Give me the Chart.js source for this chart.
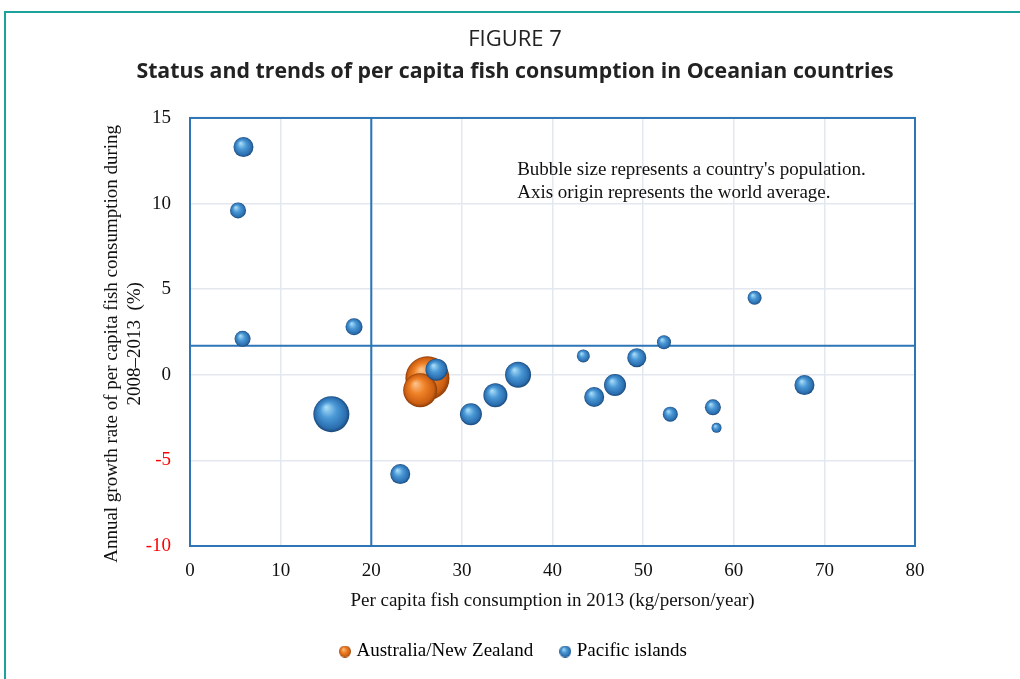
<!DOCTYPE html>
<html>
<head>
<meta charset="utf-8">
<script src="https://cdn.jsdelivr.net/npm/chart.js@4.4.1/dist/chart.umd.min.js"></script>
<style>
  html, body { margin: 0; padding: 0; background: #fff; }
  #wrap { width: 1020px; height: 679px; position: relative; }
</style>
</head>
<body>
<div id="wrap"><canvas id="fishChart"></canvas></div>
<script>
// Australia / New Zealand
const anzX = [26.2, 25.4];
const anzY = [-0.2, -0.9];
const anzR = [22, 17];

// Pacific islands
const pacX = [5.9, 5.3, 5.8, 18.1, 15.6, 23.2, 27.2, 31.0, 33.7, 36.2, 43.4, 44.6, 46.9, 49.3, 52.3, 53.0, 57.7, 58.1, 62.3, 67.8];
const pacY = [13.3, 9.6, 2.1, 2.8, -2.3, -5.8, 0.3, -2.3, -1.2, 0.0, 1.1, -1.3, -0.6, 1.0, 1.9, -2.3, -1.9, -3.1, 4.5, -0.6];
const pacR = [10, 8, 8, 8.5, 18, 10, 11, 11, 12, 13, 6.5, 10, 11, 9.5, 7, 7.5, 8, 5, 7, 10];

// world average (axis origin)
const worldX = 20;
const worldY = 1.7;

const xTicks = [0, 10, 20, 30, 40, 50, 60, 70, 80];
const yTicks = [-10, -5, 0, 5, 10, 15];

const blueStops = ['#b0e2fa', '#4a98d6', '#2b6fb0', '#1a4879'];
const orangeStops = ['#fcc791', '#ef8127', '#cc5f12', '#8c3c07'];

function points(xs, ys, rs) {
  return xs.map((x, i) => ({ x: x, y: ys[i], r: rs[i] }));
}

function sphereFill(stops) {
  return function (c) {
    if (c.type !== 'data') return stops[1];
    const chart = c.chart;
    const sx = chart.scales.x, sy = chart.scales.y;
    if (!sx || !sy) return stops[1];
    const p = c.raw;
    const cx = sx.getPixelForValue(p.x), cy = sy.getPixelForValue(p.y), r = p.r;
    if (!isFinite(cx) || !isFinite(cy) || !isFinite(r) || r <= 0) return stops[1];
    const g = chart.ctx.createRadialGradient(cx - r * 0.3, cy - r * 0.4, 0, cx, cy, r);
    g.addColorStop(0, stops[0]);
    g.addColorStop(0.45, stops[1]);
    g.addColorStop(0.85, stops[2]);
    g.addColorStop(1, stops[3]);
    return g;
  };
}

function sphereIcon(stops, r) {
  const cv = document.createElement('canvas');
  cv.width = r * 2; cv.height = r * 2;
  const c = cv.getContext('2d');
  const g = c.createRadialGradient(r * 0.7, r * 0.6, 0, r, r, r);
  g.addColorStop(0, stops[0]);
  g.addColorStop(0.45, stops[1]);
  g.addColorStop(0.85, stops[2]);
  g.addColorStop(1, stops[3]);
  c.fillStyle = g;
  c.beginPath(); c.arc(r, r, r, 0, Math.PI * 2); c.fill();
  return cv;
}

const orangeIcon = sphereIcon(orangeStops, 6);
const blueIcon = sphereIcon(blueStops, 6);

const decorations = {
  id: 'decorations',
  beforeDraw(chart) {
    const ctx = chart.ctx;
    ctx.save();
    ctx.strokeStyle = '#1ba39b';
    ctx.lineWidth = 2;
    ctx.beginPath();
    ctx.moveTo(1020, 12);
    ctx.lineTo(5, 12);
    ctx.lineTo(5, 679);
    ctx.stroke();
    ctx.restore();
  },
  beforeDatasetsDraw(chart) {
    const ctx = chart.ctx, a = chart.chartArea;
    const sx = chart.scales.x, sy = chart.scales.y;
    ctx.save();
    ctx.strokeStyle = '#2e75b6';
    ctx.lineWidth = 2;
    ctx.strokeRect(a.left, a.top, a.right - a.left, a.bottom - a.top);
    const px = sx.getPixelForValue(worldX);
    const py = sy.getPixelForValue(worldY);
    ctx.beginPath();
    ctx.moveTo(px, a.top); ctx.lineTo(px, a.bottom);
    ctx.moveTo(a.left, py); ctx.lineTo(a.right, py);
    ctx.stroke();
    ctx.fillStyle = '#111';
    ctx.font = '19px "Liberation Serif"';
    ctx.textBaseline = 'middle';
    ctx.fillText("Bubble size represents a country's population.", sx.getPixelForValue(36.1), sy.getPixelForValue(11.95));
    ctx.fillText('Axis origin represents the world average.', sx.getPixelForValue(36.1), sy.getPixelForValue(10.6));
    ctx.restore();
  }
};

new Chart(document.getElementById('fishChart'), {
  type: 'bubble',
  plugins: [decorations],
  data: {
    datasets: [
      {
        label: 'Pacific islands',
        data: points(pacX, pacY, pacR),
        backgroundColor: sphereFill(blueStops),
        borderWidth: 0,
        hoverBorderWidth: 0
      },
      {
        label: 'Australia/New Zealand',
        data: points(anzX, anzY, anzR),
        backgroundColor: sphereFill(orangeStops),
        borderWidth: 0,
        hoverBorderWidth: 0
      }
    ]
  },
  options: {
    responsive: true,
    maintainAspectRatio: false,
    animation: false,
    layout: {
      padding: { left: 10, right: 0, top: 0, bottom: 8 }
    },
    plugins: {
      tooltip: { enabled: false },
      title: {
        display: true,
        text: 'FIGURE 7',
        color: '#222',
        font: { family: 'Open Sans', size: 22, weight: 'normal' },
        padding: { top: 27, bottom: 6 }
      },
      subtitle: {
        display: true,
        text: 'Status and trends of per capita fish consumption in Oceanian countries',
        color: '#222',
        font: { family: 'Open Sans', size: 21.3, weight: 'bold' },
        padding: { top: 0, bottom: 33 }
      },
      legend: {
        position: 'bottom',
        labels: {
          usePointStyle: true,
          pointStyleWidth: 4,
          color: '#111',
          padding: 30,
          font: { family: 'Liberation Serif', size: 19 },
          generateLabels: () => [
            { text: 'Australia/New Zealand', pointStyle: orangeIcon, fillStyle: orangeStops[1], strokeStyle: orangeStops[1], lineWidth: 0, datasetIndex: 1 },
            { text: 'Pacific islands', pointStyle: blueIcon, fillStyle: blueStops[1], strokeStyle: blueStops[1], lineWidth: 0, datasetIndex: 0 }
          ]
        }
      }
    },
    scales: {
      x: {
        type: 'linear',
        min: 0,
        max: 80,
        afterBuildTicks: s => { s.ticks = xTicks.map(v => ({ value: v })); },
        afterFit: s => { s.height = 66; },
        grid: { color: '#e3e8f0', lineWidth: 1.5, drawTicks: false },
        border: { display: false },
        ticks: {
          color: '#111',
          padding: 14,
          font: { family: 'Liberation Serif', size: 19 }
        },
        title: {
          display: true,
          text: 'Per capita fish consumption in 2013 (kg/person/year)',
          color: '#111',
          font: { family: 'Liberation Serif', size: 19 },
          padding: { top: 6, bottom: 0 }
        }
      },
      y: {
        type: 'linear',
        min: -10,
        max: 15,
        afterBuildTicks: s => { s.ticks = yTicks.map(v => ({ value: v })); },
        afterFit: s => { s.width = 180; },
        grid: { color: '#e3e8f0', lineWidth: 1.5, drawTicks: false },
        border: { display: false },
        ticks: {
          padding: 19,
          color: c => c.tick.value < 0 ? '#ff0000' : '#111',
          font: { family: 'Liberation Serif', size: 19 }
        },
        title: {
          display: true,
          text: ['Annual growth rate of per capita fish consumption during\u00a0\u00a0\u00a0\u00a0\u00a0', '2008\u20132013  (%)\u00a0\u00a0\u00a0\u00a0\u00a0'],
          color: '#111',
          font: { family: 'Liberation Serif', size: 19 },
          padding: { top: 91, bottom: 0 }
        }
      },
      yRight: {
        type: 'linear',
        position: 'right',
        min: 0,
        max: 1,
        afterFit: s => { s.width = 105; },
        grid: { display: false, drawTicks: false },
        border: { display: false },
        ticks: { display: false }
      }
    }
  }
});
</script>
</body>
</html>
